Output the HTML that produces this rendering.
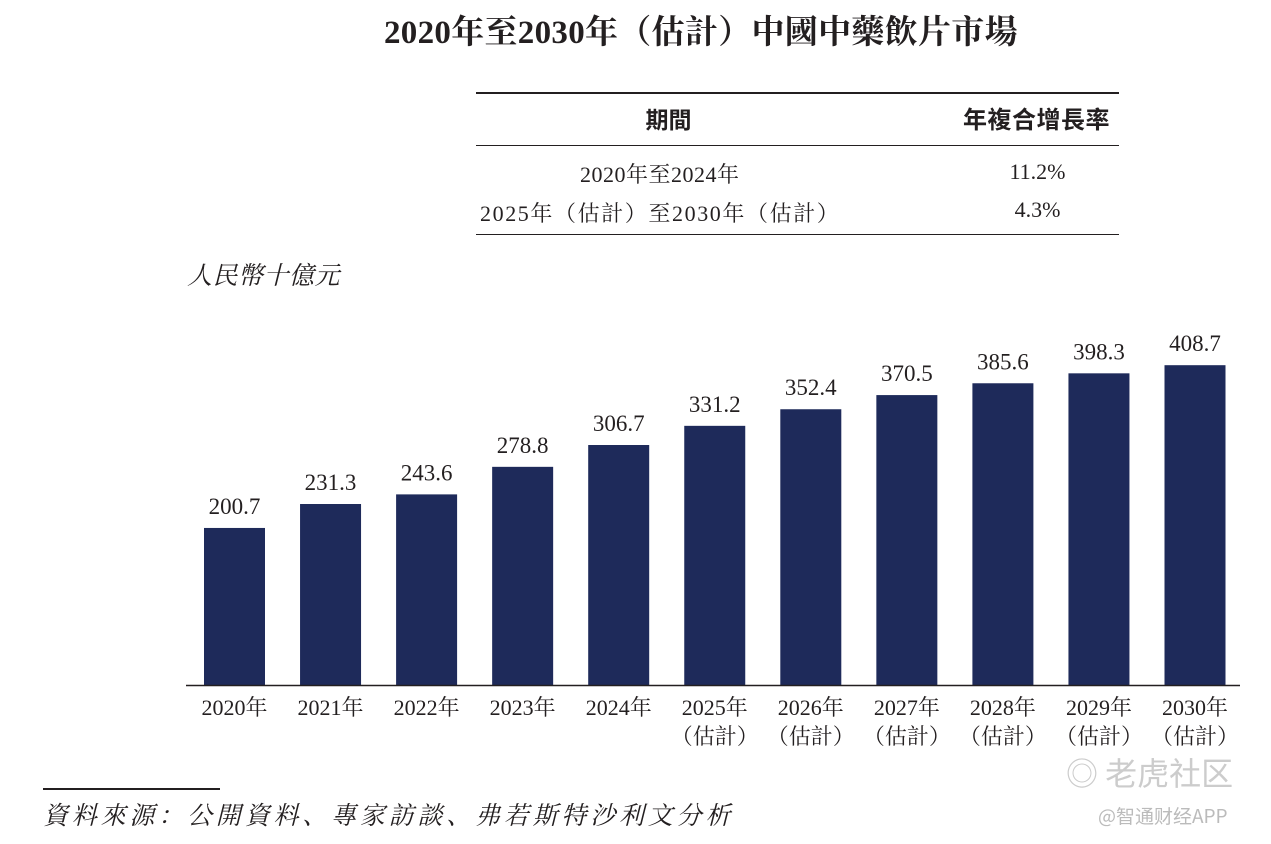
<!DOCTYPE html>
<html><head><meta charset="utf-8"><style>
body{margin:0;width:1271px;height:844px;background:#fff;overflow:hidden;font-family:"Liberation Serif","Noto Serif CJK SC",serif;color:#231f20}
.t{position:absolute;white-space:nowrap}
</style></head><body>
<div class="t" style="left:384px;top:10px;font-size:33px;font-weight:bold;line-height:46px;letter-spacing:0.3px">2020年至2030年（估計）中國中藥飲片市場</div>
<div>
<div style="position:absolute;left:476px;top:92px;width:643px;border-top:2px solid #231f20"></div>
<div class="t" style="left:466px;width:405px;text-align:center;top:101px;font-size:23px;font-weight:bold;font-family:'Noto Sans CJK SC',sans-serif">期間</div>
<div class="t" style="left:963px;top:100px;font-size:24px;font-weight:bold;font-family:'Noto Sans CJK SC',sans-serif;letter-spacing:0.5px">年複合增長率</div>
<div style="position:absolute;left:476px;top:145px;width:643px;border-top:1.5px solid #231f20"></div>
<div class="t" style="left:580px;top:158px;font-size:22px;letter-spacing:0.5px">2020年至2024年</div>
<div class="t" style="left:940px;width:195px;text-align:center;top:159px;font-size:22px">11.2%</div>
<div class="t" style="left:480px;top:197px;font-size:22px;letter-spacing:1.6px">2025年（估計）至2030年（估計）</div>
<div class="t" style="left:940px;width:195px;text-align:center;top:197px;font-size:22px">4.3%</div>
<div style="position:absolute;left:476px;top:234px;width:643px;border-top:1.5px solid #231f20"></div>
</div>
<div class="t" style="left:187px;top:256px;font-size:25px;font-style:italic;letter-spacing:0.5px">人民幣十億元</div>
<svg id="chart" width="1271" height="844" style="position:absolute;left:0;top:0"></svg>
<div style="position:absolute;left:43px;top:788px;width:177px;border-top:2px solid #231f20"></div>
<div class="t" style="left:43px;top:796px;font-size:25px;font-style:italic;letter-spacing:3.8px">資料來源：公開資料、專家訪談、弗若斯特沙利文分析</div>
<div class="t" style="left:1066px;top:749px;font-size:32px;color:#ccc;font-family:'Noto Sans CJK SC',sans-serif">◎ 老虎社区</div>
<div class="t" style="left:1098px;top:802px;font-size:19px;color:#bbb;font-family:'Noto Sans CJK SC',sans-serif">@智通财经APP</div>
<script>
const years=["2020年","2021年","2022年","2023年","2024年","2025年","2026年","2027年","2028年","2029年","2030年"];
const est=[false,false,false,false,false,true,true,true,true,true,true];
const values=[200.7,231.3,243.6,278.8,306.7,331.2,352.4,370.5,385.6,398.3,408.7];
const svg=document.getElementById('chart');const NS='http://www.w3.org/2000/svg';
const base=685,scale=0.7825,x0=204,pitch=96.05,bw=61;
const xf=i=>x0+i*pitch, yf=v=>base-v*scale;
function mk(t,a){const e=document.createElementNS(NS,t);for(const k in a)e.setAttribute(k,a[k]);svg.appendChild(e);return e;}
values.forEach((v,i)=>{
 const r=mk('rect',{x:xf(i),y:yf(v),width:bw,height:base-yf(v),fill:'#1e2a5a'});
 
 
 const l=mk('text',{x:xf(i)+bw/2,y:yf(v)-14,'text-anchor':'middle','font-size':23,'font-family':'Liberation Serif,serif',fill:'#231f20'});
 l.textContent=v.toFixed(1);
 
 
 const c=mk('text',{x:xf(i)+bw/2,y:715,'text-anchor':'middle','font-size':22,'font-family':'Liberation Serif,Noto Serif CJK SC,serif',fill:'#231f20'});
 c.textContent=years[i];
 
 
 if(est[i]){const e=mk('text',{x:xf(i)+bw/2,y:744,'text-anchor':'middle','font-size':22,'font-family':'Liberation Serif,Noto Serif CJK SC,serif',fill:'#231f20'});
 e.textContent='（估計）';
 
 }
});
const ax=mk('line',{x1:186,x2:1240,y1:base+0.5,y2:base+0.5,stroke:'#231f20','stroke-width':1.5});


</script>
</body></html>
